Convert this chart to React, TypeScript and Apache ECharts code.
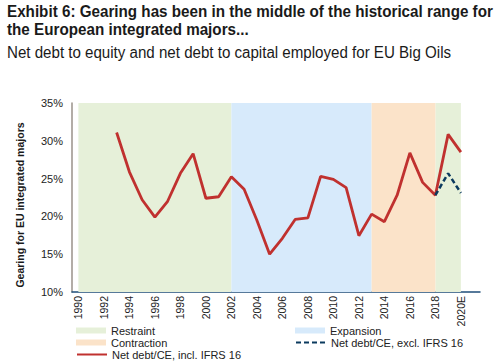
import React, { useEffect, useRef } from "react";
import * as echarts from "echarts";

const years = [
  "1990", "1991", "1992", "1993", "1994", "1995", "1996", "1997", "1998", "1999",
  "2000", "2001", "2002", "2003", "2004", "2005", "2006", "2007", "2008", "2009",
  "2010", "2011", "2012", "2013", "2014", "2015", "2016", "2017", "2018", "2019",
  "2020E", "",
];

const inclIFRS16 = [
  null, null, null, 31.1, 25.9, 22.2, 19.9, 22.0, 25.7, 28.3,
  22.4, 22.6, 25.25, 23.6, 19.5, 15.0, 17.1, 19.6, 19.8, 25.3,
  24.9, 23.8, 17.45, 20.3, 19.3, 22.8, 28.4, 24.5, 22.8, 30.85,
  28.5, null,
];

const exclIFRS16 = [
  null, null, null, null, null, null, null, null, null, null,
  null, null, null, null, null, null, null, null, null, null,
  null, null, null, null, null, null, null, null, 22.8, 25.7,
  23.1, null,
];

const phases = [
  { name: "Restraint", from: "1990", to: "2002", color: "#E6F0D9" },
  { name: "Expansion", from: "2002", to: "2013", color: "#D7EAFB" },
  { name: "Contraction", from: "2013", to: "2018", color: "#FBE3C9" },
  { name: "Restraint", from: "2018", to: "2020E", color: "#E6F0D9" },
];

const titleLines = [
  "Exhibit 6: Gearing has been in the middle of the historical range for",
  "the European integrated majors...",
];
const subtitle = "Net debt to equity and net debt to capital employed for EU Big Oils";
const yAxisName = "Gearing for EU integrated majors";

const FONT = "'Liberation Sans', Arial, sans-serif";

export default function App() {
  const ref = useRef<HTMLDivElement>(null);
  useEffect(() => {
    if (!ref.current) return;
    const chart = echarts.init(ref.current, null, { renderer: "svg" });
    const phaseSeries = ["Restraint", "Expansion", "Contraction"].map((nm) => {
      const list = phases.filter((p) => p.name === nm);
      return {
        name: nm,
        type: "line",
        data: [],
        color: list[0].color,
        itemStyle: { color: list[0].color },
        markArea: {
          silent: true,
          itemStyle: { color: list[0].color, opacity: 1 },
          data: list.map((p) => [{ xAxis: p.from }, { xAxis: p.to }]),
        },
      };
    });
    const legendText = { fontFamily: FONT, fontSize: 11, color: "#222" };
    const legendBase = {
      orient: "horizontal",
      itemWidth: 30,
      itemHeight: 6,
      itemGap: 4,
      padding: 0,
      textStyle: legendText,
      selectedMode: false,
    };
    chart.setOption({
      animation: false,
      graphic: [
        {
          type: "text",
          x: 7,
          y: 2,
          scaleX: 0.895,
          style: { text: titleLines[0], font: "bold 17px 'Liberation Sans', Arial, sans-serif", fill: "#1a1a1a", textVerticalAlign: "top" },
        },
        {
          type: "text",
          x: 7,
          y: 20,
          scaleX: 0.895,
          style: { text: titleLines[1], font: "bold 17px 'Liberation Sans', Arial, sans-serif", fill: "#1a1a1a", textVerticalAlign: "top" },
        },
        {
          type: "text",
          x: 7,
          y: 44,
          scaleX: 0.945,
          style: { text: subtitle, font: "16px 'Liberation Sans', Arial, sans-serif", fill: "#1a1a1a", textVerticalAlign: "top" },
        },
        {
          type: "text",
          x: 20,
          y: 205,
          rotation: Math.PI / 2,
          style: {
            text: yAxisName,
            font: "bold 10.5px 'Liberation Sans', Arial, sans-serif",
            fill: "#1a1a1a",
            textAlign: "center",
            textVerticalAlign: "middle",
          },
        },
      ],
      legend: [
        { ...legendBase, left: 76, top: 325, data: [{ name: "Restraint", icon: "rect" }] },
        { ...legendBase, left: 295, top: 325, data: [{ name: "Expansion", icon: "rect" }] },
        { ...legendBase, left: 76, top: 337, data: [{ name: "Contraction", icon: "rect" }] },
        { ...legendBase, left: 295, top: 337, itemHeight: 10, itemStyle: { opacity: 0 }, data: [{ name: "Net debt/CE, excl. IFRS 16" }] },
        { ...legendBase, left: 76, top: 349, itemHeight: 10, itemStyle: { opacity: 0 }, data: [{ name: "Net debt/CE, incl. IFRS 16" }] },
      ],
      grid: { left: 72, right: 21, top: 103, bottom: 71 },
      xAxis: {
        type: "category",
        data: years,
        boundaryGap: true,
        axisLine: { lineStyle: { color: "#1F4E79", width: 1.5 } },
        axisTick: { show: false },
        axisLabel: {
          interval: 1,
          rotate: 90,
          margin: 4,
          fontFamily: FONT,
          fontSize: 10.5,
          color: "#222",
        },
      },
      yAxis: {
        type: "value",
        min: 10,
        max: 35,
        interval: 5,
        axisLine: { show: true, lineStyle: { color: "#9A928A", width: 1.5 } },
        axisTick: { show: false },
        splitLine: { show: false },
        axisLabel: { formatter: "{value}%", fontFamily: FONT, fontSize: 11, color: "#222", margin: 9 },
      },
      series: [
        ...phaseSeries,
        {
          name: "Net debt/CE, excl. IFRS 16",
          type: "line",
          data: exclIFRS16,
          symbol: "none",
          color: "#0B3A5E",
          lineStyle: { color: "#0B3A5E", width: 2.5, type: [5, 3] },
          z: 5,
        },
        {
          name: "Net debt/CE, incl. IFRS 16",
          type: "line",
          data: inclIFRS16,
          symbol: "none",
          color: "#C0312F",
          lineStyle: { color: "#C0312F", width: 2.8 },
          z: 4,
        },
      ],
    });
    return () => chart.dispose();
  }, []);
  return <div ref={ref} style={{ width: 501, height: 363, position: "absolute", left: 0, top: 0 }} />;
}
